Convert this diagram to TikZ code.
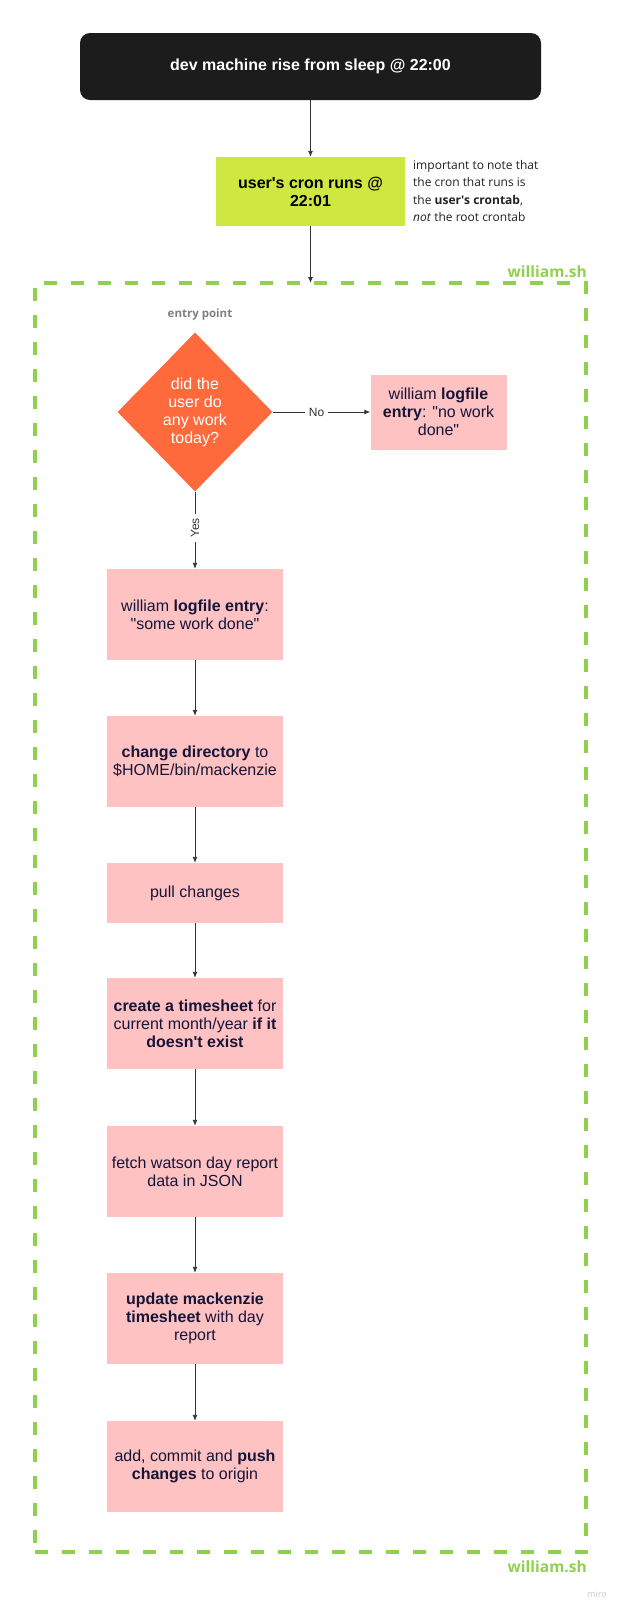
\documentclass[tikz,border=0pt]{standalone}
\usepackage{fontspec}
\setmainfont{Liberation Sans}
\newfontfamily\opensans{Open Sans}
\usetikzlibrary{shapes.geometric,arrows.meta}
\definecolor{darkbox}{HTML}{1C1C1C}
\definecolor{limebox}{HTML}{CEE741}
\definecolor{pinkbox}{HTML}{FFC2C2}
\definecolor{orangebox}{HTML}{FF6A3D}
\definecolor{framegreen}{HTML}{8FD14F}
\definecolor{navytext}{HTML}{15153A}
\definecolor{linegray}{HTML}{333333}
\definecolor{notegray}{HTML}{222222}
\begin{document}
\begin{tikzpicture}[x=1pt,y=-1pt,
  boxtext/.style={font=\fontsize{16}{18}\selectfont, align=center},
  pinkstep/.style={fill=pinkbox, text=navytext, minimum width=176pt, inner sep=0pt, boxtext},
  conn/.style={draw=linegray, line width=0.9pt, -{Latex[length=6pt,width=5pt]}},
  edgelabel/.style={fill=white, text=linegray, font=\fontsize{12}{14}\selectfont, inner sep=4pt},
  shlabel/.style={anchor=base east, inner sep=0pt, text=framegreen, font=\opensans\bfseries\fontsize{15.5}{18}\selectfont},
]
\useasboundingbox (0,0) rectangle (620,1610);

% dashed frame
\node[draw=framegreen, line width=4pt, dash pattern=on 13pt off 14pt, minimum width=551pt, minimum height=1269pt, inner sep=0pt, outer sep=0pt] (frame) at (310.5,917.5) {};
\node[shlabel] (lbltop) at (587,277) {william.sh};
\node[shlabel] (lblbot) at (587,1572) {william.sh};

% top
\node[fill=darkbox, rounded corners=10pt, minimum width=461pt, minimum height=67pt, text=white, font=\bfseries\fontsize{16}{18}\selectfont] (wake) at (310.5,66.5) {dev machine rise from sleep @ 22:00};
\node[fill=limebox, minimum width=189pt, minimum height=69pt, inner sep=0pt, align=center, font=\bfseries\fontsize{16}{18}\selectfont] (cron) at (310.5,191.5) {user\textquotesingle s cron runs @\\22:01};
\node[anchor=north west, inner sep=0pt, align=left, text=notegray, font=\opensans\fontsize{12}{17.5}\selectfont] (note) at (413,160) {important to note that\\the cron that runs is\\the \textbf{user\textquotesingle s crontab},\\\textit{not} the root crontab};

% inside
\node[text=gray, font=\opensans\bfseries\fontsize{11.5}{13}\selectfont] (entry) at (200,315) {entry point};
\node[diamond, fill=orangebox, minimum width=155pt, minimum height=159pt, inner sep=0pt, text=white, boxtext] (q) at (195,412) {did the\\user do\\any work\\today?};
\node[pinkstep, minimum width=136pt, minimum height=75pt] (nowork) at (438.5,412) {william \textbf{logfile}\\\textbf{entry}: \textquotedbl no work\\done\textquotedbl};

\node[pinkstep, minimum height=91pt] (s1) at (195,614.5) {william \textbf{logfile entry}:\\\textquotedbl some work done\textquotedbl};
\node[pinkstep, minimum height=91pt] (s2) at (195,761.5) {\textbf{change directory} to\\\$HOME/bin/mackenzie};
\node[pinkstep, minimum height=60pt] (s3) at (195,893) {pull changes};
\node[pinkstep, minimum height=91pt] (s4) at (195,1023.5) {\textbf{create a timesheet} for\\current month/year \textbf{if it}\\\textbf{doesn\textquotesingle t exist}};
\node[pinkstep, minimum height=91pt] (s5) at (195,1171.5) {fetch watson day report\\data in JSON};
\node[pinkstep, minimum height=91pt] (s6) at (195,1318.5) {\textbf{update mackenzie}\\\textbf{timesheet} with day\\report};
\node[pinkstep, minimum height=91pt] (s7) at (195,1466.5) {add, commit and \textbf{push}\\\textbf{changes} to origin};

\node[anchor=base east, inner sep=0pt, text=black!22, font=\opensans\fontsize{9}{10}\selectfont] (miro) at (607,1597) {miro};

% connectors
\draw[conn] (wake.south) -- (cron.north);
\draw[conn] (cron.south) -- (cron.south |- frame.north);
\draw[conn] (q.east) -- node[edgelabel, pos=0.45] {No} (nowork.west);
\draw[conn] (q.south) -- node[edgelabel, rotate=90, pos=0.47] {Yes} (s1.north);
\draw[conn] (s1) -- (s2);
\draw[conn] (s2) -- (s3);
\draw[conn] (s3) -- (s4);
\draw[conn] (s4) -- (s5);
\draw[conn] (s5) -- (s6);
\draw[conn] (s6) -- (s7);
\end{tikzpicture}
\end{document}
